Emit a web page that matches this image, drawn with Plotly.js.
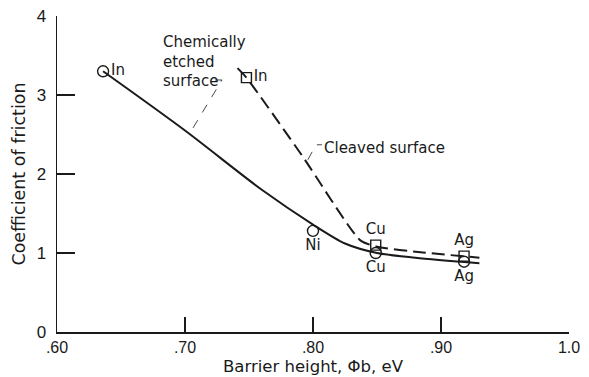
<!DOCTYPE html>
<html>
<head>
<meta charset="utf-8">
<script src="https://cdn.plot.ly/plotly-3.0.1.min.js"></script>
<style>html,body{margin:0;padding:0;background:#fff;}#chart{width:589px;height:377px;}</style>
</head>
<body>
<div id="chart"></div>
<script>
// Chemically etched surface: fitted curve (solid) and measured points (circles)
var etchedCurveX = [0.636, 0.70, 0.76, 0.80, 0.825, 0.85, 0.88, 0.93];
var etchedCurveY = [3.30, 2.55, 1.80, 1.36, 1.12, 1.00, 0.94, 0.87];
var etchedX = [0.636, 0.80, 0.849, 0.918];
var etchedY = [3.30, 1.28, 1.00, 0.89];
var etchedLabels = ['In', 'Ni', 'Cu', 'Ag'];

// Cleaved surface: fitted curve (dashed) and measured points (squares)
var cleavedCurveX = [0.741, 0.748, 0.792, 0.837, 0.850, 0.884, 0.930];
var cleavedCurveY = [3.34, 3.22, 2.22, 1.16, 1.08, 1.01, 0.94];
var cleavedX = [0.748, 0.849, 0.918];
var cleavedY = [3.22, 1.10, 0.96];
var cleavedLabels = ['In', 'Cu', 'Ag'];

var xTickVals = [0.6, 0.7, 0.8, 0.9, 1.0];
var xTickText = ['.60', '.70', '.80', '.90', '1.0'];
var yTickVals = [0, 1, 2, 3, 4];

var FONT = 'DejaVu Sans, sans-serif';
var TICKFONT = 'Liberation Sans, Arial, sans-serif';
var INK = '#1a1a1a';

var traces = [
  {x: etchedCurveX, y: etchedCurveY, mode: 'lines', type: 'scatter',
   line: {color: INK, width: 2, shape: 'spline', smoothing: 0.8}, hoverinfo: 'skip'},
  {x: cleavedCurveX, y: cleavedCurveY, mode: 'lines', type: 'scatter',
   line: {color: INK, width: 2, shape: 'spline', smoothing: 0.6, dash: '13px,6px'}, hoverinfo: 'skip'},
  {x: etchedX, y: etchedY, mode: 'markers+text', type: 'scatter',
   text: etchedLabels,
   textposition: ['middle right', 'bottom center', 'bottom center', 'bottom center'],
   textfont: {family: FONT, size: 15, color: INK},
   marker: {symbol: 'circle-open', size: 11, color: INK, line: {width: 1.4, color: INK}}},
  {x: cleavedX, y: cleavedY, mode: 'markers+text', type: 'scatter',
   text: cleavedLabels,
   textposition: ['middle right', 'top center', 'top center'],
   textfont: {family: FONT, size: 15, color: INK},
   marker: {symbol: 'square-open', size: 10, color: INK, line: {width: 1.4, color: INK}}}
];

var layout = {
  width: 589, height: 377,
  margin: {l: 57, r: 20, t: 16, b: 45},
  paper_bgcolor: '#fff', plot_bgcolor: '#fff',
  showlegend: false,
  font: {family: FONT, size: 15, color: INK},
  xaxis: {
    range: [0.6, 1.0], tickvals: xTickVals, ticktext: xTickText,
    ticks: 'inside', ticklen: 15, tickwidth: 1.3, tickcolor: INK,
    showline: true, linecolor: INK, linewidth: 1.5, mirror: false,
    showgrid: false, zeroline: false, ticklabelstandoff: 0,
    tickfont: {family: TICKFONT, size: 16, color: INK},
    title: {text: 'Barrier height, \u03A6b, eV', font: {family: FONT, size: 16.5, color: INK}, standoff: 5}
  },
  yaxis: {
    range: [0, 4], tickvals: yTickVals,
    ticks: 'inside', ticklen: 18, tickwidth: 1.3, tickcolor: INK,
    showline: true, linecolor: INK, linewidth: 1.5, mirror: false,
    showgrid: false, zeroline: false, ticklabelstandoff: 6,
    tickfont: {family: TICKFONT, size: 17, color: INK},
    title: {text: 'Coefficient of friction', font: {family: FONT, size: 17.5, color: INK}, standoff: 6}
  },
  annotations: [
    {xref: 'x', yref: 'y', x: 0.681, y: 3.43, xanchor: 'left', yanchor: 'middle', align: 'left',
     text: 'Chemically<br>etched<br>surface', showarrow: false,
     font: {family: FONT, size: 15, color: INK}},
    {xref: 'x', yref: 'y', x: 0.807, y: 2.33, xanchor: 'left', yanchor: 'middle',
     text: 'Cleaved surface', showarrow: false,
     font: {family: FONT, size: 15, color: INK}}
  ],
  shapes: [
    {type: 'path', xref: 'x', yref: 'y', path: 'M 0.7234 3.19 L 0.7289 3.19 L 0.7039 2.52',
     line: {color: INK, width: 0.8, dash: 'dash'}},
    {type: 'path', xref: 'x', yref: 'y', path: 'M 0.796 2.18 L 0.8023 2.37 L 0.807 2.37',
     line: {color: INK, width: 0.8, dash: 'dash'}}
  ]
};

Plotly.newPlot('chart', traces, layout, {displayModeBar: false, staticPlot: true});
</script>
</body>
</html>
